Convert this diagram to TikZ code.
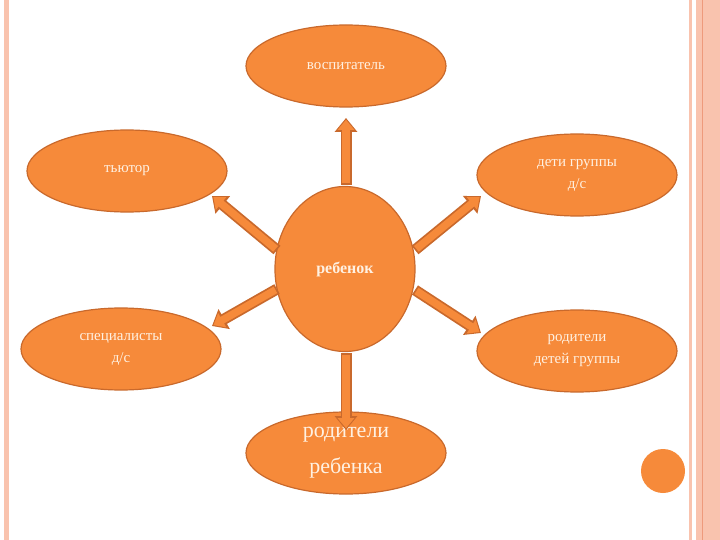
\documentclass[tikz,border=0pt]{standalone}
\usepackage{fontspec}
\setmainfont{Liberation Serif}
\usetikzlibrary{arrows.meta}
\definecolor{orfill}{HTML}{F68A3A}
\definecolor{ordraw}{HTML}{C9692C}
\definecolor{txt}{HTML}{FFF1E2}
\definecolor{pinkb}{HTML}{F9C3AE}
\definecolor{pinkd}{HTML}{EE9A7C}
\tikzset{
  bub/.style={ellipse, fill=orfill, draw=ordraw, line width=1.2pt, minimum width=200pt, minimum height=82pt, text=txt, align=center, font=\fontsize{15}{22}\selectfont, inner sep=0pt},
  arout/.style={draw=ordraw, line width=11pt, -{Triangle[width=22pt,length=14pt]}},
  arin/.style={draw=orfill, line width=7.5pt, shorten <=1.8pt, shorten >=1.8pt, -{Triangle[width=16pt,length=10pt]}}
}
\usetikzlibrary{shapes.geometric}
\begin{document}
\begin{tikzpicture}[x=1pt,y=-1pt]
\useasboundingbox (0,0) rectangle (720,540);
\fill[white] (0,0) rectangle (720,540);
\fill[pinkb] (4,0) rectangle (9,540);
\fill[pinkb] (689,0) rectangle (692,540);
\fill[pinkb] (696,0) rectangle (720,540);
\draw[pinkd, line width=0.8pt] (702,0) -- (702,540);
\node[bub] (vos) at (346,66) {воспитатель};
\node[bub] (tut) at (127,171) {тьютор};
\node[bub] (det) at (577,175) {дети группы\\д/с};
\node[bub] (spe) at (121,349) {специалисты\\д/с};
\node[bub] (rod) at (577,351) {родители\\детей группы};
\node[bub, font=\fontsize{22}{36}\selectfont] (rreb) at (346,453) {родители\\ребенка};
\node[ellipse, fill=orfill, draw=ordraw, line width=1.2pt, minimum width=140pt, minimum height=165pt, text=txt, font=\bfseries\fontsize{16}{20}\selectfont, inner sep=0pt] (reb) at (345,269) {ребенок};
\node[circle, fill=orfill, minimum size=44pt, inner sep=0pt] (dot) at (663,471) {};
\coordinate (a1s) at (346,185); \coordinate (a1e) at (346,118);
\coordinate (a2s) at (346,353); \coordinate (a2e) at (346,430);
\coordinate (a3s) at (277,250); \coordinate (a3e) at (212,196);
\coordinate (a4s) at (415,250); \coordinate (a4e) at (481,196);
\coordinate (a5s) at (277,289); \coordinate (a5e) at (212,326);
\coordinate (a6s) at (415,290); \coordinate (a6e) at (481,333);
\foreach \i in {1,...,6}{
  \draw[arout] (a\i s) -- (a\i e);
  \draw[arin] (a\i s) -- (a\i e);
}
\end{tikzpicture}
\end{document}
